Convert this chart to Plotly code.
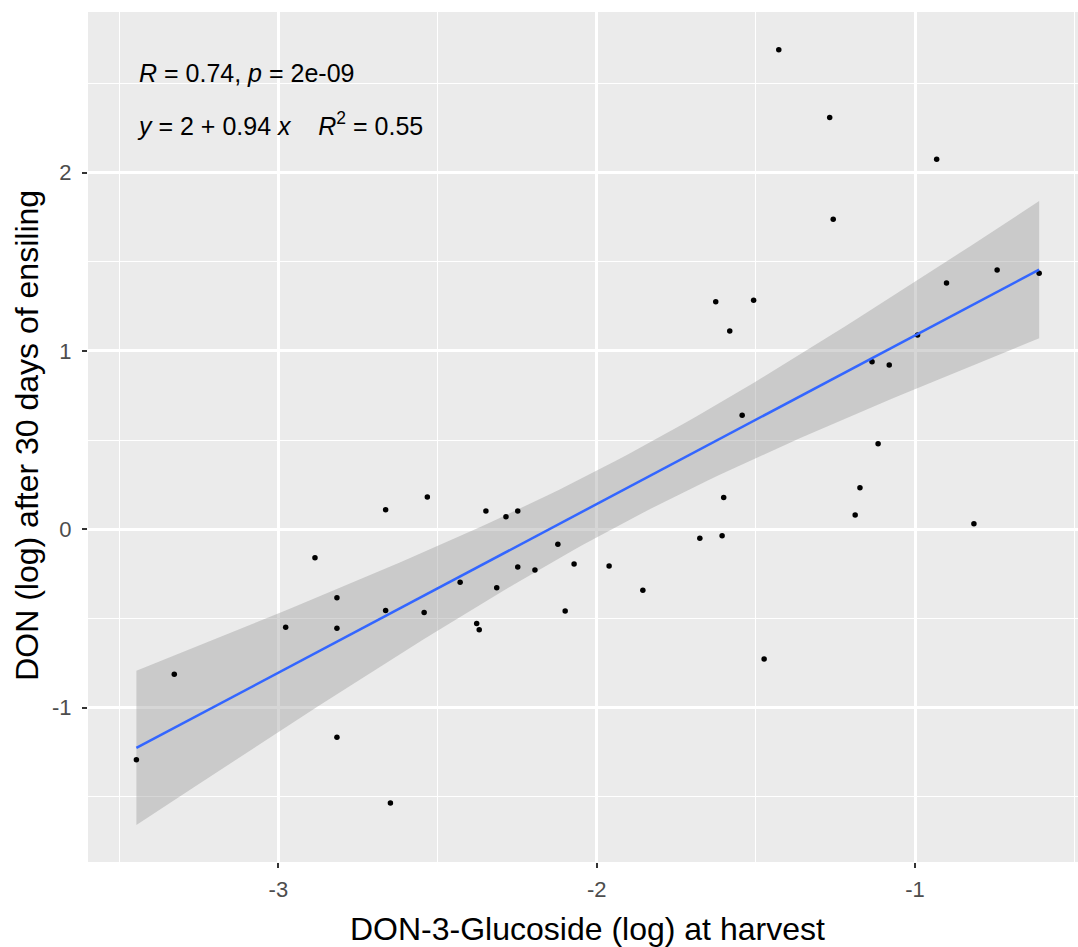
import numpy as np
import plotly.graph_objects as go

# ---- data ----
don3g_harvest = [-1.428, -1.268, -0.932, -1.257, -1.626, -1.507, -1.582, -0.742, -0.901, -0.610,
                 -0.992, -1.135, -1.081, -1.543, -1.116, -1.173, -1.601, -1.188, -0.815, -1.676,
                 -1.606, -1.474, -1.961, -1.855, -2.122, -2.248, -2.194, -2.071, -2.429, -2.314,
                 -2.099, -2.377, -2.369, -2.348, -2.285, -2.248, -2.532, -2.663, -2.885, -2.816,
                 -2.663, -2.542, -2.977, -2.816, -3.327, -3.446, -2.816, -2.648]
don_30days = [2.688, 2.309, 2.074, 1.738, 1.276, 1.284, 1.112, 1.453, 1.381, 1.435,
              1.089, 0.939, 0.921, 0.639, 0.480, 0.233, 0.179, 0.080, 0.031, -0.050,
              -0.036, -0.727, -0.206, -0.342, -0.084, -0.211, -0.228, -0.195, -0.297, -0.327,
              -0.458, -0.528, -0.563, 0.103, 0.071, 0.103, 0.181, 0.110, -0.159, -0.384,
              -0.455, -0.466, -0.549, -0.554, -0.813, -1.292, -1.165, -1.534]

x_ticks = [-3, -2, -1]
x_tick_labels = ["-3", "-2", "-1"]
y_ticks = [-1, 0, 1, 2]
y_tick_labels = ["-1", "0", "1", "2"]

label_cor = "<i>R</i> = 0.74, <i>p</i> = 2e-09"
label_eq = "<i>y</i> = 2 + 0.94 <i>x</i>    <i>R</i><sup>2</sup> = 0.55"
x_title = "DON-3-Glucoside (log) at harvest"
y_title = "DON (log) after 30 days of ensiling"

# ---- linear fit with 95% confidence band (as geom_smooth(method = "lm")) ----
x = np.array(don3g_harvest)
y = np.array(don_30days)
n = len(x)
slope, intercept = np.polyfit(x, y, 1)
resid = y - (intercept + slope * x)
s = np.sqrt(np.sum(resid ** 2) / (n - 2))
sxx = np.sum((x - x.mean()) ** 2)
t_crit = 2.0129  # qt(0.975, df = 46)
xs = np.linspace(x.min(), x.max(), 80)
fit = intercept + slope * xs
se = s * np.sqrt(1.0 / n + (xs - x.mean()) ** 2 / sxx)
upper = fit + t_crit * se
lower = fit - t_crit * se

FONT = "Liberation Sans, Arial, sans-serif"

fig = go.Figure()
fig.add_trace(go.Scatter(
    x=np.concatenate([xs, xs[::-1]]), y=np.concatenate([upper, lower[::-1]]),
    fill="toself", fillcolor="rgba(153,153,153,0.4)", line=dict(width=0),
    mode="lines", hoverinfo="skip", showlegend=False))
fig.add_trace(go.Scatter(
    x=x, y=y, mode="markers",
    marker=dict(color="black", size=5.5), showlegend=False))
fig.add_trace(go.Scatter(
    x=xs, y=fit, mode="lines", line=dict(color="#3366FF", width=2.5),
    showlegend=False))

axis_common = dict(
    showgrid=True, gridcolor="white", gridwidth=2.6,
    zeroline=False, showline=False,
    ticks="outside", ticklen=5, tickwidth=2, tickcolor="#333333",
    tickfont=dict(family=FONT, size=22, color="#4d4d4d"),
    minor=dict(showgrid=True, gridcolor="white", gridwidth=1.3, dtick=0.5, ticks=""),
)

fig.update_xaxes(range=[-3.598, -0.488], tickvals=x_ticks, ticktext=x_tick_labels,
                 ticklabelstandoff=3, **axis_common)
fig.update_yaxes(range=[-1.865, 2.900], tickvals=y_ticks, ticktext=y_tick_labels,
                 ticklabelstandoff=6, **axis_common)

fig.update_layout(
    width=1078, height=947,
    margin=dict(l=88, r=0, t=12, b=85),
    paper_bgcolor="white", plot_bgcolor="#EBEBEB",
    font=dict(family=FONT, color="black"),
    annotations=[
        dict(text=label_cor, xref="paper", yref="paper", x=0.0495, y=0.928,
             xanchor="left", yanchor="middle", showarrow=False,
             font=dict(family=FONT, size=25, color="black")),
        dict(text=label_eq, xref="paper", yref="paper", x=0.0475, y=0.868,
             xanchor="left", yanchor="middle", showarrow=False,
             font=dict(family=FONT, size=25, color="black")),
        dict(text=x_title, xref="paper", yref="paper", x=0.505, y=-0.0788,
             xanchor="center", yanchor="middle", showarrow=False,
             font=dict(family=FONT, size=32, color="black")),
        dict(text=y_title, xref="paper", yref="paper", x=-0.0611, y=0.502,
             xanchor="center", yanchor="middle", showarrow=False, textangle=-90,
             font=dict(family=FONT, size=32, color="black")),
    ],
)

fig.write_html("out.html", config={"displayModeBar": False},
               post_script="document.body.style.margin='0';")
